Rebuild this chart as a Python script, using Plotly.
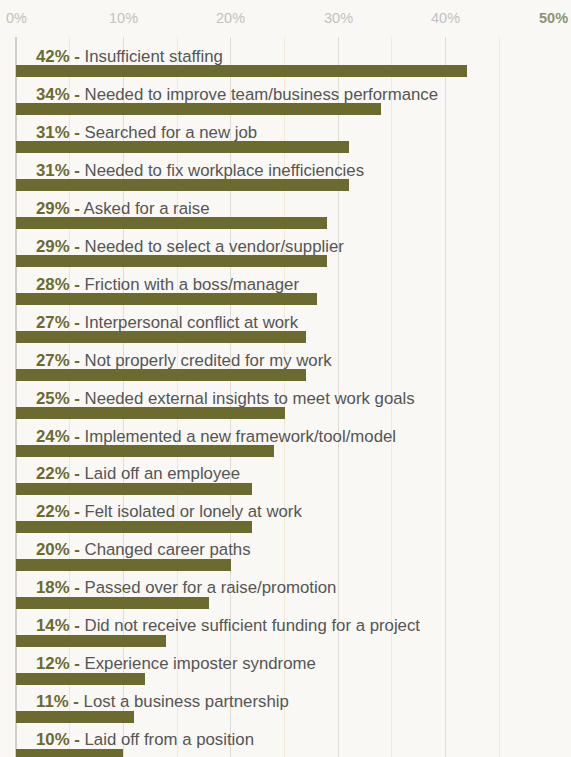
import plotly.graph_objects as go

# Survey responses: share of respondents per workplace situation
reasons = [
    "Insufficient staffing",
    "Needed to improve team/business performance",
    "Searched for a new job",
    "Needed to fix workplace inefficiencies",
    "Asked for a raise",
    "Needed to select a vendor/supplier",
    "Friction with a boss/manager",
    "Interpersonal conflict at work",
    "Not properly credited for my work",
    "Needed external insights to meet work goals",
    "Implemented a new framework/tool/model",
    "Laid off an employee",
    "Felt isolated or lonely at work",
    "Changed career paths",
    "Passed over for a raise/promotion",
    "Did not receive sufficient funding for a project",
    "Experience imposter syndrome",
    "Lost a business partnership",
    "Laid off from a position",
]
shares = [42, 34, 31, 31, 29, 29, 28, 27, 27, 25, 24, 22, 22, 20, 18, 14, 12, 11, 10]

tick_values = [0, 10, 20, 30, 40, 50]
tick_labels = ["0%", "10%", "20%", "30%", "40%", "50%"]

OLIVE = "#6b6a2f"
BG = "#f9f8f4"
FONT = "Liberation Sans, Arial, sans-serif"

positions = list(range(len(reasons)))

fig = go.Figure()
fig.add_trace(go.Bar(
    x=shares,
    y=positions,
    orientation="h",
    width=0.32,
    marker=dict(color=OLIVE, line=dict(width=0)),
    hoverinfo="skip",
))

# Category labels sit above each bar
for pos, share, reason in zip(positions, shares, reasons):
    fig.add_annotation(
        x=0, y=pos, xref="x", yref="y",
        xanchor="left", yanchor="middle",
        xshift=18, yshift=15,
        showarrow=False,
        text=f"<b><span style='color:{OLIVE}'>{share}% -</span></b> {reason}",
        font=dict(family=FONT, size=16.8, color="#555555"),
    )

# Percentage scale along the top
for val, lab in zip(tick_values, tick_labels):
    last = val == tick_values[-1]
    fig.add_annotation(
        x=val, y=1, xref="x", yref="paper",
        xanchor="center", yanchor="middle",
        yshift=19, showarrow=False,
        text=f"<b>{lab}</b>" if last else lab,
        font=dict(family=FONT, size=14.5, color="#8c9477" if last else "#c2c2c0"),
    )

fig.update_layout(
    width=571, height=757,
    margin=dict(l=16, r=18, t=37, b=0),
    paper_bgcolor=BG, plot_bgcolor=BG,
    showlegend=False,
    bargap=0,
    xaxis=dict(
        range=[0, 50], side="top",
        tickvals=tick_values, showticklabels=False,
        showgrid=True, gridcolor="#dedcd6", gridwidth=1,
        minor=dict(dtick=5, showgrid=True, gridcolor="#efe9d6", gridwidth=1),
        zeroline=True, zerolinecolor="#cfcfcb", zerolinewidth=2,
        showline=False, fixedrange=True,
    ),
    yaxis=dict(
        range=[18.053, -0.895],
        showticklabels=False, showgrid=False, zeroline=False,
        showline=False, fixedrange=True,
    ),
)

fig.write_html("out.html")
